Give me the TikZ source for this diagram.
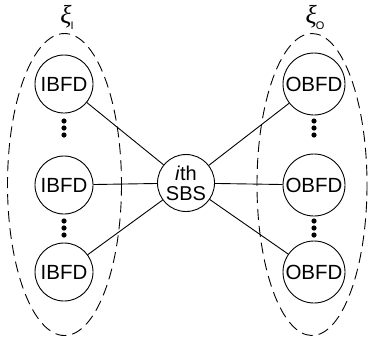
\documentclass[tikz,border=0pt]{standalone}
\usepackage{fontspec}
\setmainfont{Liberation Sans}
\newfontfamily\greekfont{Liberation Serif}
\begin{document}
\begin{tikzpicture}[x=1pt,y=-1pt,
  dev/.style={draw,circle,line width=0.9pt,inner sep=0pt,font=\fontsize{20.5}{22}\selectfont},
  link/.style={line width=0.9pt},
  group/.style={draw,line width=0.9pt,dash pattern=on 11pt off 6pt},
  setlabel/.style={inner sep=0pt,font=\fontsize{26}{28}\selectfont}]
\useasboundingbox (0,0) rectangle (369,338);
% dashed sets of in-band and out-of-band devices
\draw[group] (64.5,184.5) ellipse [x radius=57, y radius=151];
\draw[group] (312,184.5) ellipse [x radius=55, y radius=151];
\node[setlabel] (xiI) at (67,17) {\greekfont\itshape ξ\kern-1pt\raisebox{-6pt}{\upshape\fontsize{11}{12}\selectfont\fontspec{Liberation Sans}I}};
\node[setlabel] (xiO) at (315,17) {\greekfont\itshape ξ\kern-1pt\raisebox{-6pt}{\upshape\fontsize{11}{12}\selectfont\fontspec{Liberation Sans}O}};
% central base station
\node[dev,minimum size=57pt,align=center,font=\fontsize{20}{20}\selectfont] (sbs) at (186,183) {\textit{i}th\\SBS};
% in-band devices
\node[dev,minimum size=58pt] (i1) at (64,84) {IBFD};
\node[dev,minimum size=58pt] (i2) at (64,185) {IBFD};
\node[dev,minimum size=58pt] (i3) at (64,272) {IBFD};
% out-of-band devices
\node[dev,minimum size=62pt] (o1) at (314,84) {OBFD};
\node[dev,minimum size=62pt] (o2) at (314,185) {OBFD};
\node[dev,minimum size=62pt] (o3) at (314,272) {OBFD};
% links
\foreach \n in {i1,i2,i3,o1,o2,o3} \draw[link] (sbs) -- (\n);
% vertical ellipsis dots
\foreach \x in {64,314}{
  \foreach \y in {121,128,135,221,228,235}
    \fill (\x,\y) circle [radius=2.6];
}
\end{tikzpicture}
\end{document}
